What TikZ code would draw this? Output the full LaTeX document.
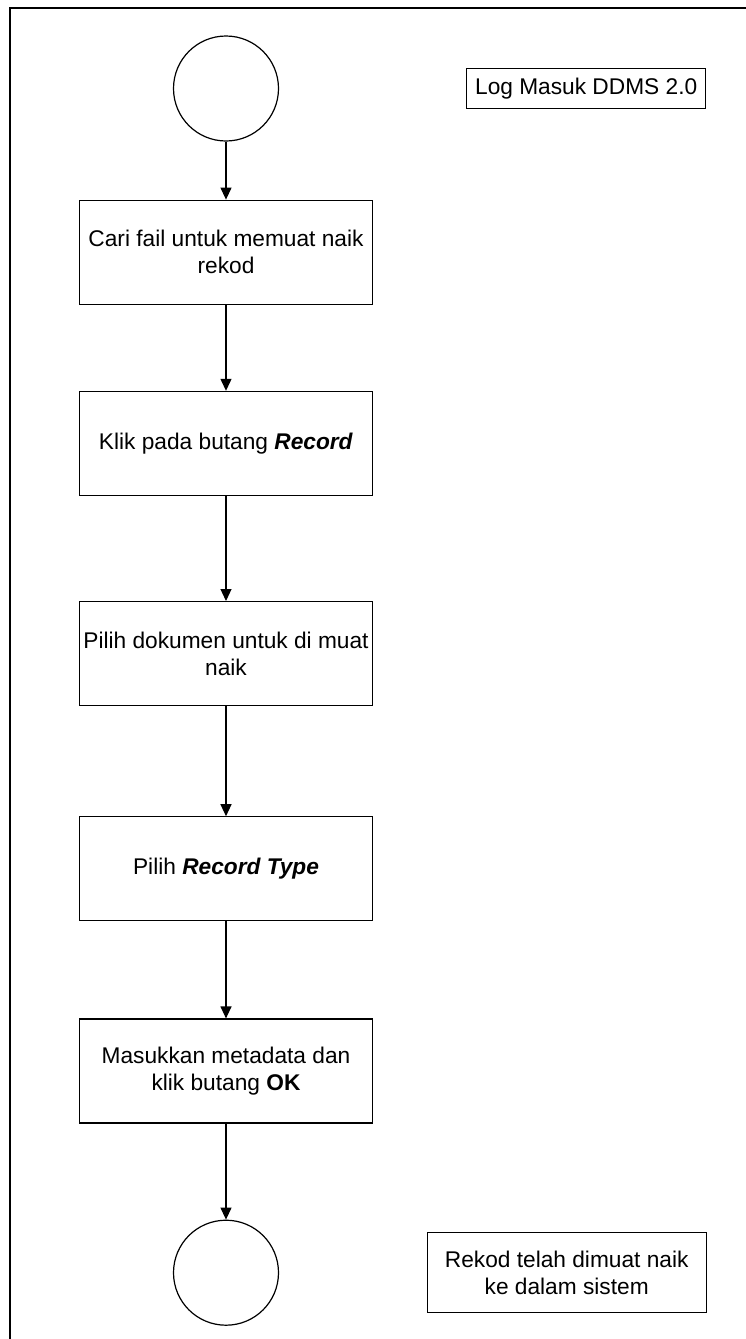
\documentclass[tikz,border=0pt]{standalone}
\usepackage{fontspec}
\setmainfont{Liberation Sans}
\usepackage{xcolor}
\usepackage{tikz}
\usetikzlibrary{arrows.meta,positioning}
\definecolor{flowline}{HTML}{000000}
\tikzset{
  terminal/.style={circle,draw=flowline,line width=1.2pt,fill=white,minimum size=105pt,inner sep=0pt},
  stepbox/.style={rectangle,draw=flowline,line width=1.2pt,fill=white,align=center,minimum width=293pt,minimum height=104pt,inner sep=2pt,font=\fontsize{22.7}{26.7}\selectfont},
  note/.style={rectangle,draw=flowline,line width=1.2pt,fill=white,align=center,inner sep=2pt,font=\fontsize{22.7}{26.7}\selectfont},
  flow/.style={-{Triangle[length=12pt,width=11pt]},line width=1.2pt,draw=flowline}
}

\begin{document}
\begin{tikzpicture}[x=1pt,y=-1pt,node distance=86pt]
\useasboundingbox (0,0) rectangle (745,1339);
\draw[line width=1.2pt] (10,8) rectangle (770,1370);
\node[terminal] (start) at (226,88.5) {};
\node[note,right=187pt of start,minimum width=239pt,minimum height=40pt] (login) {Log Masuk DDMS 2.0};
\node[stepbox,below=58pt of start] (cari) {Cari fail untuk memuat naik\\rekod};
\node[stepbox,below=of cari] (klik) {Klik pada butang \textbf{\textit{Record}}};
\node[stepbox,below=105pt of klik] (pilihdok) {Pilih dokumen untuk di muat\\naik};
\node[stepbox,below=110pt of pilihdok] (pilihtype) {Pilih \textbf{\textit{Record Type}}};
\node[stepbox,below=97pt of pilihtype] (meta) {Masukkan metadata dan\\klik butang \textbf{OK}};
\node[terminal,below=96pt of meta] (end) {};
\node[note,right=147.5pt of end,minimum width=279pt,minimum height=80pt] (done) {Rekod telah dimuat naik\\ke dalam sistem};
\draw[flow] (start) -- (cari);
\draw[flow] (cari) -- (klik);
\draw[flow] (klik) -- (pilihdok);
\draw[flow] (pilihdok) -- (pilihtype);
\draw[flow] (pilihtype) -- (meta);
\draw[flow] (meta) -- (end);
\end{tikzpicture}
\end{document}
